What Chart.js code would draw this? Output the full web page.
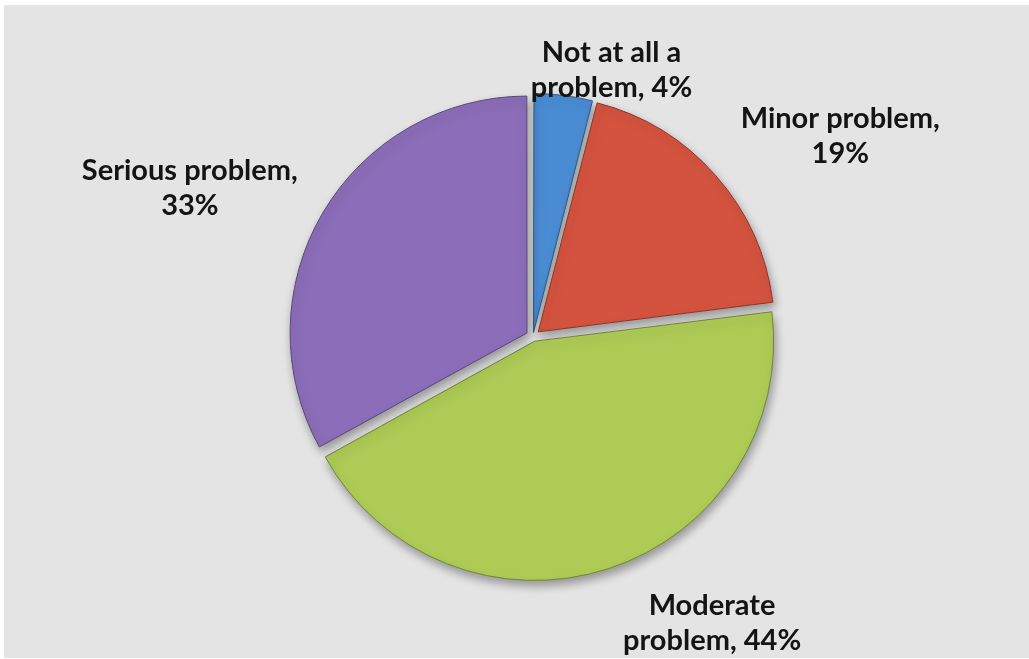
<!DOCTYPE html>
<html>
<head>
<meta charset="utf-8">
<script src="https://cdn.jsdelivr.net/npm/chart.js@4.4.1/dist/chart.umd.min.js"></script>
<style>
  html, body { margin: 0; padding: 0; background: #ffffff; }
  #frame {
    position: absolute;
    left: 4px;
    top: 5px;
    width: 1025px;
    height: 653px;
    background: #e4e4e4;
  }
  #frame canvas { display: block; }
</style>
</head>
<body>
<div id="frame"><canvas id="pie-chart" width="1025" height="653"></canvas></div>
<script>
// ===== DATA =====
const categories = ["Not at all a problem", "Minor problem", "Moderate problem", "Serious problem"];
const shares = [4, 19, 44, 33];
const sliceColors = ["#4a8cd4", "#d4533f", "#aecb56", "#8b6db9"];
// label lines as Excel wraps them
const labelLines = [
  ["Not at all a", "problem, 4%"],
  ["Minor problem,", "19%"],
  ["Moderate", "problem, 44%"],
  ["Serious problem,", "33%"],
];
// nudge of each label away from the slice rim (px)
const labelNudge = [
  [48, -25],
  [125, -40],
  [104, 56],
  [-134, -25],
];
// explode amount per slice (Chart.js offset units)
const sliceOffset = [16, 28, 20, 28];

// ===== HELPERS =====
function shade(hex, amt) {
  const r = parseInt(hex.slice(1, 3), 16);
  const g = parseInt(hex.slice(3, 5), 16);
  const b = parseInt(hex.slice(5, 7), 16);
  const f = (c) => Math.max(0, Math.min(255, Math.round(amt < 0 ? c * (1 + amt) : c + (255 - c) * amt)));
  return `rgb(${f(r)}, ${f(g)}, ${f(b)})`;
}

function sliceFill(context) {
  const chart = context.chart;
  const base = sliceColors[context.dataIndex];
  const arc = chart.getDatasetMeta(0).data[context.dataIndex];
  if (!arc || !arc.outerRadius) return base;
  const { x, y, outerRadius } = arc.getProps(["x", "y", "outerRadius"], true);
  const grad = chart.ctx.createRadialGradient(x, y, 0, x, y, outerRadius + 5);
  grad.addColorStop(0, shade(base, -0.04));
  grad.addColorStop(0.8, base);
  grad.addColorStop(0.93, shade(base, 0.12));
  grad.addColorStop(0.98, shade(base, -0.1));
  grad.addColorStop(1, shade(base, -0.3));
  return grad;
}

// ===== PLUGINS =====
const shadowPlugin = {
  id: "sliceShadow",
  beforeDatasetsDraw(chart) {
    const ctx = chart.ctx;
    ctx.save();
    ctx.shadowColor = "rgba(0, 0, 0, 0.35)";
    ctx.shadowBlur = 10;
    ctx.shadowOffsetX = 2;
    ctx.shadowOffsetY = 5;
  },
  afterDatasetsDraw(chart) {
    chart.ctx.restore();
  },
};

const outsideLabels = {
  id: "outsideLabels",
  afterDraw(chart) {
    const ctx = chart.ctx;
    const meta = chart.getDatasetMeta(0);
    ctx.save();
    ctx.font = "bold 29px Lato, 'Open Sans', sans-serif";
    ctx.fillStyle = "#141414";
    ctx.textAlign = "center";
    ctx.textBaseline = "middle";
    const lineH = 35;
    meta.data.forEach((arc, i) => {
      const { x, y, startAngle, endAngle, outerRadius } = arc.getProps(
        ["x", "y", "startAngle", "endAngle", "outerRadius"], true);
      const mid = (startAngle + endAngle) / 2;
      const ax = x + Math.cos(mid) * (outerRadius + 7) + labelNudge[i][0];
      const ay = y + Math.sin(mid) * (outerRadius + 7) + labelNudge[i][1];
      const lines = labelLines[i];
      lines.forEach((t, k) => {
        ctx.fillText(t, ax, ay + (k - (lines.length - 1) / 2) * lineH);
      });
    });
    ctx.restore();
  },
};

// ===== CHART =====
new Chart(document.getElementById("pie-chart").getContext("2d"), {
  type: "pie",
  data: {
    labels: categories,
    datasets: [
      {
        data: shares,
        backgroundColor: sliceFill,
        borderColor: sliceColors.map((c) => shade(c, -0.35)),
        borderWidth: 1,
        offset: sliceOffset,
      },
    ],
  },
  options: {
    responsive: false,
    animation: false,
    radius: 236,
    layout: { padding: { left: 50, right: 17, top: 40, bottom: 30 } },
    plugins: {
      legend: { display: false },
      tooltip: { enabled: false },
    },
  },
  plugins: [shadowPlugin, outsideLabels],
});
</script>
</body>
</html>
